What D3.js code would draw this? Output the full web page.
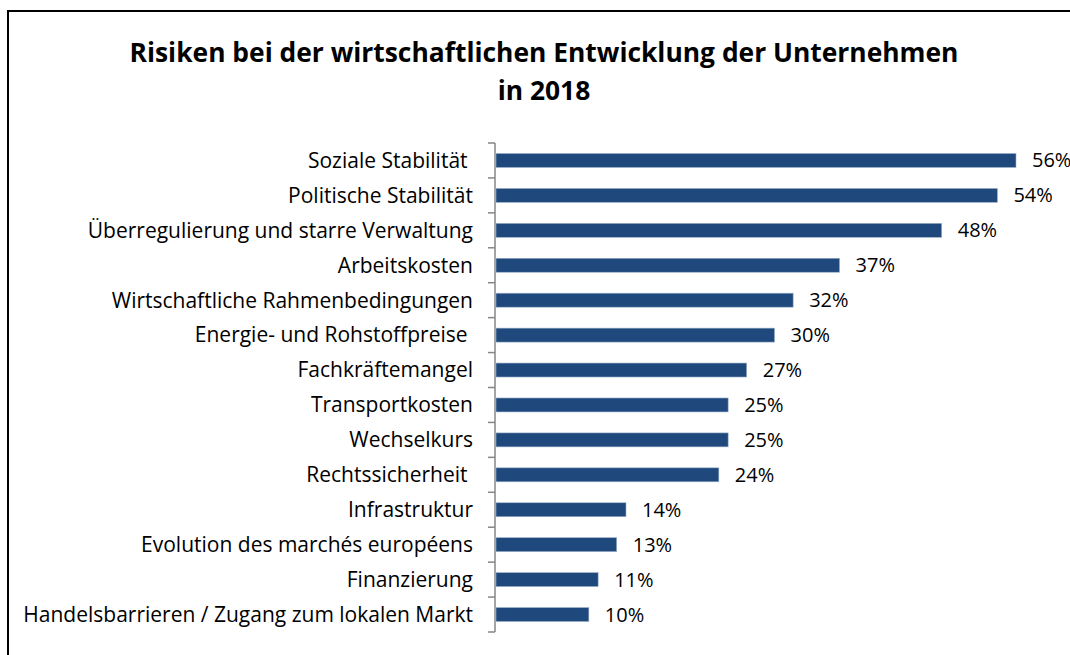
<!DOCTYPE html>
<html>
<head>
  <meta charset="UTF-8">
  <style>
    body { margin: 0; background: #fff; }
    svg { display: block; }
    text { font-family: "Open Sans", sans-serif; fill: #000; }
  </style>
</head>
<body>
  <script src="https://d3js.org/d3.v7.min.js"></script>
  <script>
    var categories = [
      "Soziale Stabilität ",
      "Politische Stabilität",
      "Überregulierung und starre Verwaltung",
      "Arbeitskosten",
      "Wirtschaftliche Rahmenbedingungen",
      "Energie- und Rohstoffpreise ",
      "Fachkräftemangel",
      "Transportkosten",
      "Wechselkurs",
      "Rechtssicherheit ",
      "Infrastruktur",
      "Evolution des marchés européens",
      "Finanzierung",
      "Handelsbarrieren / Zugang zum lokalen Markt"
    ];
    var values = [56, 54, 48, 37, 32, 30, 27, 25, 25, 24, 14, 13, 11, 10];
    var titleLines = ["Risiken bei der wirtschaftlichen Entwicklung der Unternehmen", "in 2018"];

    var width = 1070, height = 655;
    var svg = d3.select("body").append("svg")
      .attr("width", width)
      .attr("height", height);

    // rahmen
    svg.append("rect")
      .attr("x", 8).attr("y", 11)
      .attr("width", 1080).attr("height", 660)
      .attr("fill", "none")
      .attr("stroke", "#000")
      .attr("stroke-width", 2);

    svg.selectAll(".titel")
      .data(titleLines)
      .enter().append("text")
      .attr("class", "titel")
      .attr("x", 544)
      .attr("y", function(d, i) { return 62 + i * 38; })
      .attr("text-anchor", "middle")
      .style("font-size", "26.4px")
      .style("font-weight", "bold")
      .text(function(d) { return d; });

    var x = d3.scaleLinear().domain([0, 56]).range([496, 1016]);
    var y = d3.scaleBand().domain(categories).range([143, 632])
      .paddingInner(0.6).paddingOuter(0.3);

    var step = y.step();
    var top0 = y.range()[0];

    // achse
    var achse = svg.append("g").attr("stroke", "#868686").attr("stroke-width", 1.5);
    achse.append("line")
      .attr("x1", 495).attr("x2", 495)
      .attr("y1", top0).attr("y2", y.range()[1]);
    achse.selectAll("line.tick")
      .data(d3.range(categories.length + 1))
      .enter().append("line")
      .attr("class", "tick")
      .attr("x1", 488).attr("x2", 495)
      .attr("y1", function(i) { return top0 + i * step; })
      .attr("y2", function(i) { return top0 + i * step; });

    svg.selectAll("rect.bar")
      .data(values)
      .enter().append("rect")
      .attr("class", "bar")
      .attr("x", x(0))
      .attr("y", function(d, i) { return y(categories[i]); })
      .attr("width", function(d) { return x(d) - x(0); })
      .attr("height", y.bandwidth())
      .attr("fill", "#1F497D")
      .attr("stroke", "#9fb3cc")
      .attr("stroke-width", 0.6);

    svg.selectAll("text.kat")
      .data(categories)
      .enter().append("text")
      .attr("class", "kat")
      .attr("x", 473)
      .attr("y", function(d) { return y(d) + y.bandwidth() / 2; })
      .attr("dy", "0.35em")
      .attr("text-anchor", "end")
      .style("font-size", "21px")
      .style("white-space", "pre")
      .text(function(d) { return d; });

    svg.selectAll("text.wert")
      .data(values)
      .enter().append("text")
      .attr("class", "wert")
      .attr("x", function(d) { return x(d) + 16; })
      .attr("y", function(d, i) { return y(categories[i]) + y.bandwidth() / 2; })
      .attr("dy", "0.35em")
      .style("font-size", "20px")
      .text(function(d) { return d + "%"; });
  </script>
</body>
</html>
